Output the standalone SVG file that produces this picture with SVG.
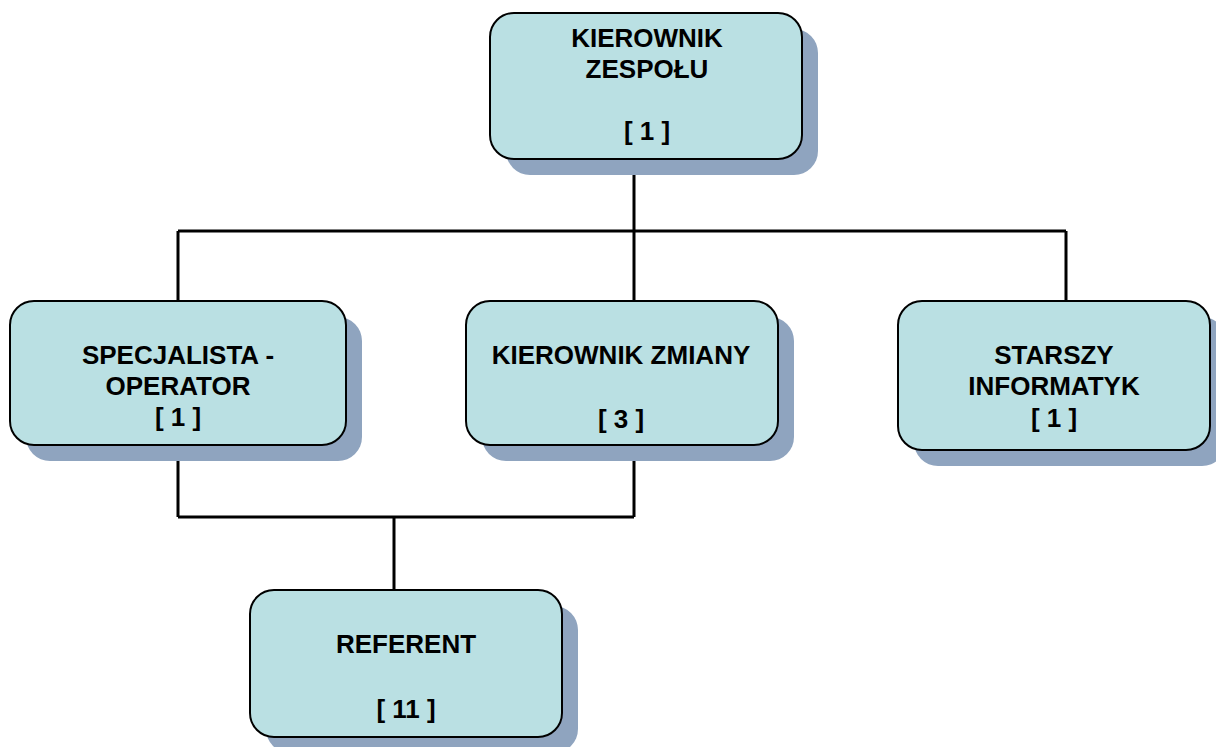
<svg xmlns="http://www.w3.org/2000/svg" width="1216" height="747" viewBox="0 0 1216 747">
<style>
.sh{fill:#8fa4bf}
.bx{fill:#bae0e3;stroke:#000;stroke-width:2}
.t{font-family:"Liberation Sans",Arial,sans-serif;font-weight:bold;font-size:26px;fill:#000;text-anchor:middle}
.c{stroke:#000;stroke-width:3;fill:none}
</style>
<rect width="1216" height="747" fill="#fff"/>
<g id="connectors">
<path class="c" d="M634 159V301M178 231H1066M178 231V301M1066 231V301M178 445V517M634 445V517M178 517H634M394 517V590"/>
</g>
<g id="kierownik-zespolu">
<rect class="sh" x="506" y="29" width="312" height="146" rx="24"/>
<rect class="bx" x="490" y="13" width="312" height="146" rx="24"/>
<text class="t" x="647" y="47">KIEROWNIK</text>
<text class="t" x="647" y="78">ZESPOŁU</text>
<text class="t" x="647" y="140">[ 1 ]</text>
</g>
<g id="specjalista-operator">
<rect class="sh" x="26" y="317" width="336" height="144" rx="24"/>
<rect class="bx" x="10" y="301" width="336" height="144" rx="24"/>
<text class="t" x="178" y="364">SPECJALISTA -</text>
<text class="t" x="178" y="395">OPERATOR</text>
<text class="t" x="178" y="426">[ 1 ]</text>
</g>
<g id="kierownik-zmiany">
<rect class="sh" x="482" y="317" width="312" height="144" rx="24"/>
<rect class="bx" x="466" y="301" width="312" height="144" rx="24"/>
<text class="t" x="621" y="364">KIEROWNIK ZMIANY</text>
<text class="t" x="621" y="428">[ 3 ]</text>
</g>
<g id="starszy-informatyk">
<rect class="sh" x="914" y="317" width="312" height="149" rx="24"/>
<rect class="bx" x="898" y="301" width="312" height="149" rx="24"/>
<text class="t" x="1054" y="364">STARSZY</text>
<text class="t" x="1054" y="395">INFORMATYK</text>
<text class="t" x="1054" y="427">[ 1 ]</text>
</g>
<g id="referent">
<rect class="sh" x="266" y="606" width="312" height="147" rx="24"/>
<rect class="bx" x="250" y="590" width="312" height="147" rx="24"/>
<text class="t" x="406" y="653">REFERENT</text>
<text class="t" x="406" y="718">[ 11 ]</text>
</g>
</svg>
